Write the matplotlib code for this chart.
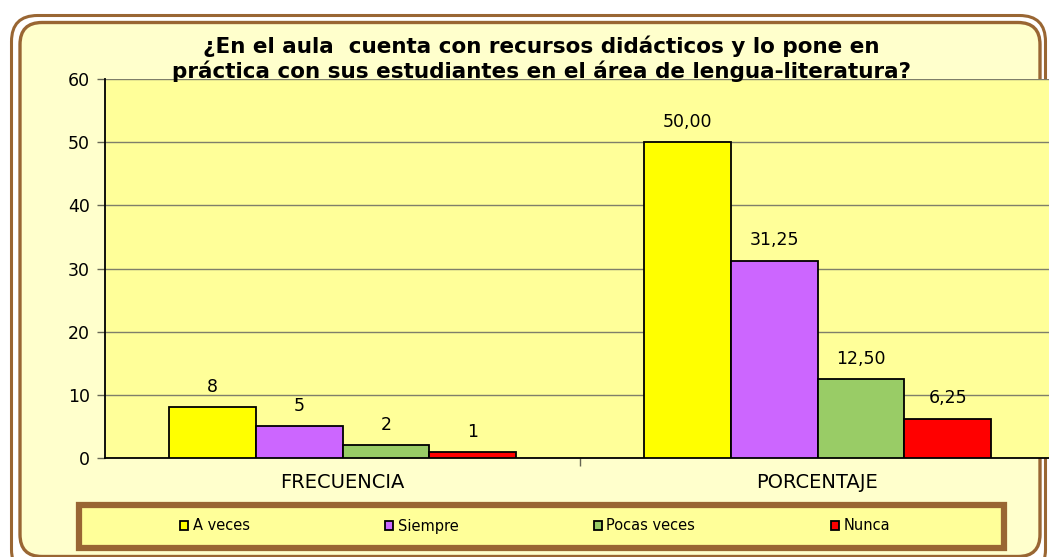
import numpy as np
import matplotlib.pyplot as plt
from matplotlib.patches import FancyBboxPatch, Rectangle

plt.rcParams['font.family'] = ['DejaVu Sans']

categorias = ['FRECUENCIA', 'PORCENTAJE']
series = ['A veces', 'Siempre', 'Pocas veces', 'Nunca']
colores = ['#FFFF00', '#CC66FF', '#99CC66', '#FF0000']
valores = [
    [8, 50.00],
    [5, 31.25],
    [2, 12.50],
    [1, 6.25],
]
etiquetas = [
    ['8', '50,00'],
    ['5', '31,25'],
    ['2', '12,50'],
    ['1', '6,25'],
]
titulo = ('¿En el aula  cuenta con recursos didácticos y lo pone en\n'
          'práctica con sus estudiantes en el área de lengua-literatura?')

W, H = 1049, 557
fig = plt.figure(figsize=(W / 100, H / 100), dpi=100)
fig.patch.set_facecolor('white')

# fondo: marco redondeado con doble línea, en coordenadas de píxel
bg = fig.add_axes([0, 0, 1, 1], zorder=-1)
bg.set_xlim(0, W)
bg.set_ylim(H, 0)
bg.axis('off')
bg.add_patch(FancyBboxPatch((11.5, 15.5), 1034, 560, boxstyle='round,pad=0,rounding_size=26',
                            facecolor='white', edgecolor='#996633', linewidth=2.2))
bg.add_patch(FancyBboxPatch((20, 22.5), 1020, 534, boxstyle='round,pad=0,rounding_size=22',
                            facecolor='#FFFFCC', edgecolor='#996633', linewidth=2.4))
bg.add_patch(Rectangle((79, 505), 925, 43, facecolor='#FFFF99',
                       edgecolor='#996633', linewidth=4.5))

ax = fig.add_axes([105 / W, 1 - 458 / H, 950 / W, 379 / H], zorder=1)
ax.set_facecolor('#FFFF99')

x = np.arange(len(categorias))
ancho = 0.183
for i, (s, c) in enumerate(zip(series, colores)):
    pos = x + (i - 1.5) * ancho
    bars = ax.bar(pos, valores[i], width=ancho, color=c, edgecolor='black',
                  linewidth=1.3, label=s, zorder=3)
    for b, t in zip(bars, etiquetas[i]):
        ax.annotate(t, (b.get_x() + b.get_width() / 2, b.get_height()),
                    xytext=(0, 8), textcoords='offset points',
                    ha='center', va='bottom', fontsize=12.5)

ax.set_xlim(-0.5, 1.5)
ax.set_ylim(0, 60)
ax.set_yticks(np.arange(0, 61, 10))
ax.yaxis.grid(True, color='#7f7f6a', linewidth=1.0, zorder=0)
ax.set_axisbelow(True)
ax.tick_params(axis='y', labelsize=12.5, length=6, width=1.0, color='#666655', pad=5)
ax.set_xticks([0.5])
ax.set_xticklabels([''])
ax.tick_params(axis='x', length=6, width=1.0, color='#666655')
for i, c in enumerate(categorias):
    ax.annotate(c, (x[i], 0), xytext=(0, -11), textcoords='offset points',
                ha='center', va='top', fontsize=14)
for s in ['top', 'right']:
    ax.spines[s].set_visible(False)
ax.spines['left'].set_linewidth(1.3)
ax.spines['bottom'].set_linewidth(1.3)

fig.text(541 / W, 1 - 58.5 / H, titulo, ha='center', va='center',
         fontsize=15.5, fontweight='bold', linespacing=1.2)

handles, labels = ax.get_legend_handles_labels()
fig.legend(handles, labels, loc='center', bbox_to_anchor=(535 / W, 1 - 526 / H),
           ncol=4, frameon=False, fontsize=10.5, handlelength=0.55,
           handleheight=0.55, handletextpad=0.3, columnspacing=9.3)

fig.savefig('out.png', dpi=100)
